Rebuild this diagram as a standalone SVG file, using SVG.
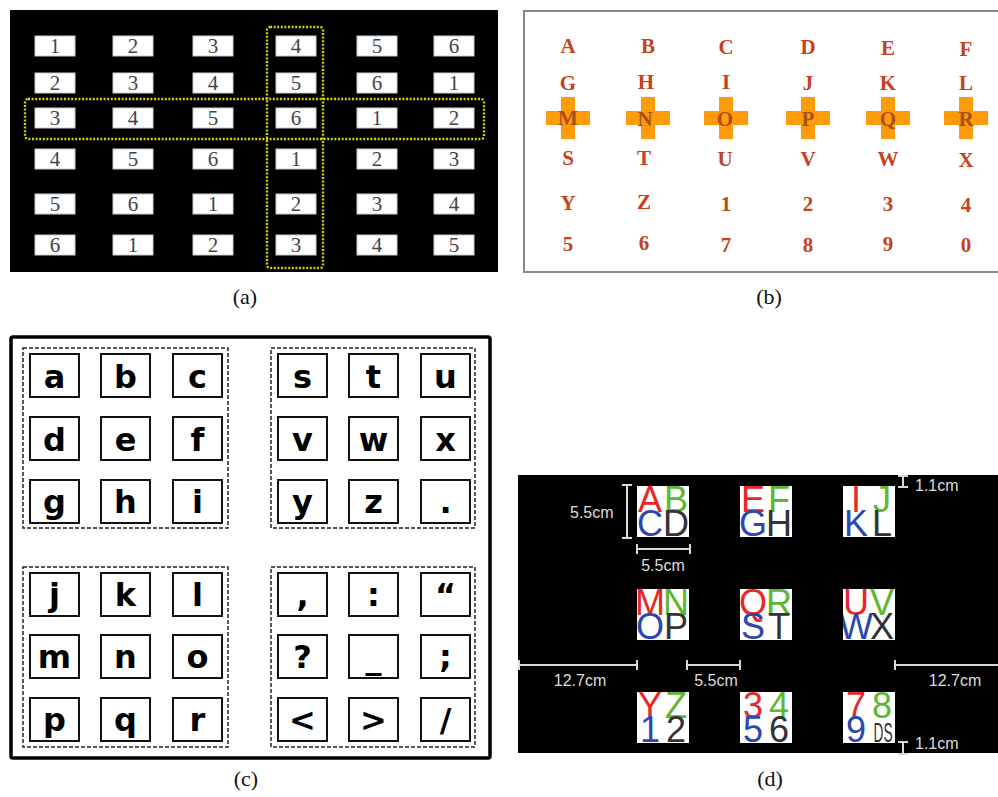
<svg xmlns="http://www.w3.org/2000/svg" width="998" height="797" viewBox="0 0 998 797">
<style>
.bg{fill:#fff}
.abox{fill:#fff;stroke:#ccc;stroke-width:1}
.anum{font-family:"Liberation Serif",serif;font-size:21px;fill:#444;text-anchor:middle}
.ysel{fill:none;stroke:#d2d200;stroke-width:2.4;stroke-dasharray:2 1.6}
.blet{font-family:"Liberation Serif",serif;font-weight:bold;font-size:21px;fill:#c4421c;text-anchor:middle}
.bon{fill:#a8501a}
.cross{fill:#ff9a0a}
.grp{fill:none;stroke:#222;stroke-width:1.5;stroke-dasharray:4 2}
.key{fill:#fff;stroke:#111;stroke-width:2}
.clet{font-family:"DejaVu Sans",sans-serif;font-weight:bold;font-size:32px;fill:#000;text-anchor:middle}
.cell{fill:#fff}
.dl{font-family:"Liberation Sans",Arial,sans-serif;font-size:36px;text-anchor:middle}
.r{fill:#e8262a}.g{fill:#5cb82e}.b{fill:#2a48b0}.k{fill:#333}
.dim{stroke:#d8d8d8;stroke-width:2;fill:none}
.dt{font-family:"Liberation Sans",Arial,sans-serif;font-size:16px;fill:#ddd}
.cap{font-family:"Liberation Serif",serif;font-size:22px;fill:#111;text-anchor:middle}
</style>
<defs>
<path id="crs" d="M-22,-7 h15 v-14 h14 v14 h15 v14 h-15 v14 h-14 v-14 h-15 z"/>
<clipPath id="c1"><rect x="637" y="486" width="52" height="51"/></clipPath>
<clipPath id="c2"><rect x="740" y="486" width="52" height="51"/></clipPath>
<clipPath id="c3"><rect x="843" y="486" width="52" height="51"/></clipPath>
<clipPath id="c4"><rect x="637" y="589" width="52" height="51"/></clipPath>
<clipPath id="c5"><rect x="740" y="589" width="52" height="51"/></clipPath>
<clipPath id="c6"><rect x="843" y="589" width="52" height="51"/></clipPath>
<clipPath id="c7"><rect x="637" y="692" width="52" height="51"/></clipPath>
<clipPath id="c8"><rect x="740" y="692" width="52" height="51"/></clipPath>
<clipPath id="c9"><rect x="843" y="692" width="52" height="51"/></clipPath>
</defs>
<rect class="bg" x="0" y="0" width="998" height="797"/>

<!-- Panel (a) -->
<g id="panel-a">
<rect x="10" y="10" width="488" height="262" fill="#000"/>
<g id="a-boxes">
<rect class="abox" x="35" y="36" width="40" height="20"/><rect class="abox" x="113" y="36" width="40" height="20"/><rect class="abox" x="193" y="36" width="40" height="20"/><rect class="abox" x="276" y="36" width="40" height="20"/><rect class="abox" x="357" y="36" width="40" height="20"/><rect class="abox" x="434" y="36" width="40" height="20"/>
<rect class="abox" x="35" y="73" width="40" height="20"/><rect class="abox" x="113" y="73" width="40" height="20"/><rect class="abox" x="193" y="73" width="40" height="20"/><rect class="abox" x="276" y="73" width="40" height="20"/><rect class="abox" x="357" y="73" width="40" height="20"/><rect class="abox" x="434" y="73" width="40" height="20"/>
<rect class="abox" x="35" y="108" width="40" height="20"/><rect class="abox" x="113" y="108" width="40" height="20"/><rect class="abox" x="193" y="108" width="40" height="20"/><rect class="abox" x="276" y="108" width="40" height="20"/><rect class="abox" x="357" y="108" width="40" height="20"/><rect class="abox" x="434" y="108" width="40" height="20"/>
<rect class="abox" x="35" y="149" width="40" height="20"/><rect class="abox" x="113" y="149" width="40" height="20"/><rect class="abox" x="193" y="149" width="40" height="20"/><rect class="abox" x="276" y="149" width="40" height="20"/><rect class="abox" x="357" y="149" width="40" height="20"/><rect class="abox" x="434" y="149" width="40" height="20"/>
<rect class="abox" x="35" y="194" width="40" height="20"/><rect class="abox" x="113" y="194" width="40" height="20"/><rect class="abox" x="193" y="194" width="40" height="20"/><rect class="abox" x="276" y="194" width="40" height="20"/><rect class="abox" x="357" y="194" width="40" height="20"/><rect class="abox" x="434" y="194" width="40" height="20"/>
<rect class="abox" x="35" y="235" width="40" height="20"/><rect class="abox" x="113" y="235" width="40" height="20"/><rect class="abox" x="193" y="235" width="40" height="20"/><rect class="abox" x="276" y="235" width="40" height="20"/><rect class="abox" x="357" y="235" width="40" height="20"/><rect class="abox" x="434" y="235" width="40" height="20"/>
</g>
<g id="a-nums">
<text class="anum" x="55" y="53">1</text><text class="anum" x="133" y="53">2</text><text class="anum" x="213" y="53">3</text><text class="anum" x="296" y="53">4</text><text class="anum" x="377" y="53">5</text><text class="anum" x="454" y="53">6</text>
<text class="anum" x="55" y="90">2</text><text class="anum" x="133" y="90">3</text><text class="anum" x="213" y="90">4</text><text class="anum" x="296" y="90">5</text><text class="anum" x="377" y="90">6</text><text class="anum" x="454" y="90">1</text>
<text class="anum" x="55" y="125">3</text><text class="anum" x="133" y="125">4</text><text class="anum" x="213" y="125">5</text><text class="anum" x="296" y="125">6</text><text class="anum" x="377" y="125">1</text><text class="anum" x="454" y="125">2</text>
<text class="anum" x="55" y="166">4</text><text class="anum" x="133" y="166">5</text><text class="anum" x="213" y="166">6</text><text class="anum" x="296" y="166">1</text><text class="anum" x="377" y="166">2</text><text class="anum" x="454" y="166">3</text>
<text class="anum" x="55" y="211">5</text><text class="anum" x="133" y="211">6</text><text class="anum" x="213" y="211">1</text><text class="anum" x="296" y="211">2</text><text class="anum" x="377" y="211">3</text><text class="anum" x="454" y="211">4</text>
<text class="anum" x="55" y="252">6</text><text class="anum" x="133" y="252">1</text><text class="anum" x="213" y="252">2</text><text class="anum" x="296" y="252">3</text><text class="anum" x="377" y="252">4</text><text class="anum" x="454" y="252">5</text>
</g>
<rect class="ysel" x="267" y="27" width="56" height="241" rx="3"/>
<rect class="ysel" x="25" y="99" width="459" height="40" rx="3"/>
<text class="cap" x="245" y="304">(a)</text>
</g>

<!-- Panel (b) -->
<g id="panel-b">
<rect x="524" y="11" width="480" height="261" fill="#fff" stroke="#888" stroke-width="2"/>
<g id="b-crosses">
<use href="#crs" class="cross" x="568" y="118"/><use href="#crs" class="cross" x="648" y="118"/><use href="#crs" class="cross" x="726" y="118"/><use href="#crs" class="cross" x="808" y="118"/><use href="#crs" class="cross" x="888" y="118"/><use href="#crs" class="cross" x="966" y="118"/>
</g>
<g id="b-letters">
<text class="blet" x="568" y="53">A</text><text class="blet" x="648" y="53">B</text><text class="blet" x="726" y="54">C</text><text class="blet" x="808" y="54">D</text><text class="blet" x="888" y="55">E</text><text class="blet" x="966" y="56">F</text>
<text class="blet" x="568" y="90">G</text><text class="blet" x="646" y="89">H</text><text class="blet" x="726" y="89">I</text><text class="blet" x="808" y="90">J</text><text class="blet" x="888" y="90">K</text><text class="blet" x="966" y="90">L</text>
<text class="blet bon" x="568" y="125">M</text><text class="blet bon" x="645" y="126">N</text><text class="blet bon" x="725" y="126">O</text><text class="blet bon" x="808" y="126">P</text><text class="blet bon" x="888" y="126">Q</text><text class="blet bon" x="966" y="126">R</text>
<text class="blet" x="568" y="165">S</text><text class="blet" x="644" y="165">T</text><text class="blet" x="725" y="166">U</text><text class="blet" x="808" y="166">V</text><text class="blet" x="888" y="166">W</text><text class="blet" x="966" y="167">X</text>
<text class="blet" x="568" y="210">Y</text><text class="blet" x="644" y="209">Z</text><text class="blet" x="726" y="211">1</text><text class="blet" x="808" y="211">2</text><text class="blet" x="888" y="211">3</text><text class="blet" x="966" y="212">4</text>
<text class="blet" x="568" y="251">5</text><text class="blet" x="644" y="250">6</text><text class="blet" x="726" y="252">7</text><text class="blet" x="808" y="252">8</text><text class="blet" x="888" y="251">9</text><text class="blet" x="966" y="252">0</text>
</g>
<text class="cap" x="769" y="304">(b)</text>
</g>

<!-- Panel (c) -->
<g id="panel-c">
<rect x="11" y="337" width="479" height="421" rx="2" fill="#fff" stroke="#000" stroke-width="3.5"/>
<g id="c-groups">
<rect class="grp" x="23" y="348" width="205" height="180"/>
<rect class="grp" x="271" y="348" width="204" height="180"/>
<rect class="grp" x="23" y="567" width="205" height="180"/>
<rect class="grp" x="271" y="567" width="204" height="180"/>
</g>
<g id="c-keys">
<rect class="key" x="30" y="354" width="49" height="43"/><rect class="key" x="101" y="354" width="49" height="43"/><rect class="key" x="173" y="354" width="49" height="43"/><rect class="key" x="278" y="354" width="49" height="43"/><rect class="key" x="349" y="354" width="49" height="43"/><rect class="key" x="421" y="354" width="49" height="43"/>
<rect class="key" x="30" y="417" width="49" height="43"/><rect class="key" x="101" y="417" width="49" height="43"/><rect class="key" x="173" y="417" width="49" height="43"/><rect class="key" x="278" y="417" width="49" height="43"/><rect class="key" x="349" y="417" width="49" height="43"/><rect class="key" x="421" y="417" width="49" height="43"/>
<rect class="key" x="30" y="480" width="49" height="43"/><rect class="key" x="101" y="480" width="49" height="43"/><rect class="key" x="173" y="480" width="49" height="43"/><rect class="key" x="278" y="480" width="49" height="43"/><rect class="key" x="349" y="480" width="49" height="43"/><rect class="key" x="421" y="480" width="49" height="43"/>
<rect class="key" x="30" y="573" width="49" height="43"/><rect class="key" x="101" y="573" width="49" height="43"/><rect class="key" x="173" y="573" width="49" height="43"/><rect class="key" x="278" y="573" width="49" height="43"/><rect class="key" x="349" y="573" width="49" height="43"/><rect class="key" x="421" y="573" width="49" height="43"/>
<rect class="key" x="30" y="635" width="49" height="43"/><rect class="key" x="101" y="635" width="49" height="43"/><rect class="key" x="173" y="635" width="49" height="43"/><rect class="key" x="278" y="635" width="49" height="43"/><rect class="key" x="349" y="635" width="49" height="43"/><rect class="key" x="421" y="635" width="49" height="43"/>
<rect class="key" x="30" y="698" width="49" height="43"/><rect class="key" x="101" y="698" width="49" height="43"/><rect class="key" x="173" y="698" width="49" height="43"/><rect class="key" x="278" y="698" width="49" height="43"/><rect class="key" x="349" y="698" width="49" height="43"/><rect class="key" x="421" y="698" width="49" height="43"/>
</g>
<g id="c-letters">
<text class="clet" x="54.5" y="388">a</text><text class="clet" x="125.5" y="388">b</text><text class="clet" x="197.5" y="388">c</text><text class="clet" x="302.5" y="388">s</text><text class="clet" x="373.5" y="388">t</text><text class="clet" x="445.5" y="388">u</text>
<text class="clet" x="54.5" y="451">d</text><text class="clet" x="125.5" y="451">e</text><text class="clet" x="197.5" y="451">f</text><text class="clet" x="302.5" y="451">v</text><text class="clet" x="373.5" y="451">w</text><text class="clet" x="445.5" y="451">x</text>
<text class="clet" x="54.5" y="513">g</text><text class="clet" x="125.5" y="513">h</text><text class="clet" x="197.5" y="513">i</text><text class="clet" x="302.5" y="513">y</text><text class="clet" x="373.5" y="513">z</text><text class="clet" x="445.5" y="513">.</text>
<text class="clet" x="54.5" y="606">j</text><text class="clet" x="125.5" y="606">k</text><text class="clet" x="197.5" y="606">l</text><text class="clet" x="302.5" y="606">,</text><text class="clet" x="373.5" y="606">:</text><text class="clet" x="445.5" y="606">“</text>
<text class="clet" x="54.5" y="668">m</text><text class="clet" x="125.5" y="668">n</text><text class="clet" x="197.5" y="668">o</text><text class="clet" x="302.5" y="668">?</text><text class="clet" x="373.5" y="668">_</text><text class="clet" x="445.5" y="668">;</text>
<text class="clet" x="54.5" y="731">p</text><text class="clet" x="125.5" y="731">q</text><text class="clet" x="197.5" y="731">r</text><text class="clet" x="302.5" y="731">&lt;</text><text class="clet" x="373.5" y="731">&gt;</text><text class="clet" x="445.5" y="731">/</text>
</g>
<text class="cap" x="246" y="786">(c)</text>
</g>

<!-- Panel (d) -->
<g id="panel-d">
<rect x="518" y="475" width="482" height="278" fill="#000"/>
<g id="d-cells">
<g clip-path="url(#c1)"><rect class="cell" x="637" y="486" width="52" height="51"/><text class="dl r" x="650" y="512">A</text><text class="dl g" x="676" y="512">B</text><text class="dl b" x="650" y="536">C</text><text class="dl k" x="676" y="536">D</text></g>
<g clip-path="url(#c2)"><rect class="cell" x="740" y="486" width="52" height="51"/><text class="dl r" x="753" y="512">E</text><text class="dl g" x="779" y="512">F</text><text class="dl b" x="753" y="536">G</text><text class="dl k" x="779" y="536">H</text></g>
<g clip-path="url(#c3)"><rect class="cell" x="843" y="486" width="52" height="51"/><text class="dl r" x="856" y="512">I</text><text class="dl g" x="882" y="512">J</text><text class="dl b" x="856" y="536">K</text><text class="dl k" x="882" y="536">L</text></g>
<g clip-path="url(#c4)"><rect class="cell" x="637" y="589" width="52" height="51"/><text class="dl r" x="650" y="615">M</text><text class="dl g" x="676" y="615">N</text><text class="dl b" x="650" y="639">O</text><text class="dl k" x="676" y="639">P</text></g>
<g clip-path="url(#c5)"><rect class="cell" x="740" y="589" width="52" height="51"/><text class="dl r" x="753" y="615">Q</text><text class="dl g" x="779" y="615">R</text><text class="dl b" x="753" y="639">S</text><text class="dl k" x="779" y="639">T</text></g>
<g clip-path="url(#c6)"><rect class="cell" x="843" y="589" width="52" height="51"/><text class="dl r" x="856" y="615">U</text><text class="dl g" x="882" y="615">V</text><text class="dl b" x="856" y="639">W</text><text class="dl k" x="882" y="639">X</text></g>
<g clip-path="url(#c7)"><rect class="cell" x="637" y="692" width="52" height="51"/><text class="dl r" x="650" y="718">Y</text><text class="dl g" x="676" y="718">Z</text><text class="dl b" x="650" y="742">1</text><text class="dl k" x="676" y="742">2</text></g>
<g clip-path="url(#c8)"><rect class="cell" x="740" y="692" width="52" height="51"/><text class="dl r" x="753" y="718">3</text><text class="dl g" x="779" y="718">4</text><text class="dl b" x="753" y="742">5</text><text class="dl k" x="779" y="742">6</text></g>
<g clip-path="url(#c9)"><rect class="cell" x="843" y="692" width="52" height="51"/><text class="dl r" x="856" y="718">7</text><text class="dl g" x="882" y="718">8</text><text class="dl b" x="856" y="742">9</text><text class="dl k" x="883" y="742" style="font-size:27px" textLength="19" lengthAdjust="spacingAndGlyphs">DS</text></g>
</g>
<g id="d-dimensions">
<path class="dim" d="M627,485 V538 M622,485 H632 M622,538 H632"/>
<path class="dim" d="M637,549 H690 M637,544 V554 M690,544 V554"/>
<path class="dim" d="M903,476 V487 M898,476 H908 M898,487 H908"/>
<path class="dim" d="M903,742 V754 M898,742 H908 M898,754 H908"/>
<path class="dim" d="M518,665 H637 M637,660 V670 M519,660 V670"/>
<path class="dim" d="M687,665 H740 M687,660 V670 M740,660 V670"/>
<path class="dim" d="M895,665 H998 M895,660 V670"/>
<text class="dt" x="570" y="518">5.5cm</text>
<text class="dt" x="663" y="571" text-anchor="middle">5.5cm</text>
<text class="dt" x="915" y="491">1.1cm</text>
<text class="dt" x="915" y="749">1.1cm</text>
<text class="dt" x="580" y="686" text-anchor="middle">12.7cm</text>
<text class="dt" x="716" y="686" text-anchor="middle">5.5cm</text>
<text class="dt" x="955" y="686" text-anchor="middle">12.7cm</text>
</g>
<text class="cap" x="770" y="786">(d)</text>
</g>
</svg>
